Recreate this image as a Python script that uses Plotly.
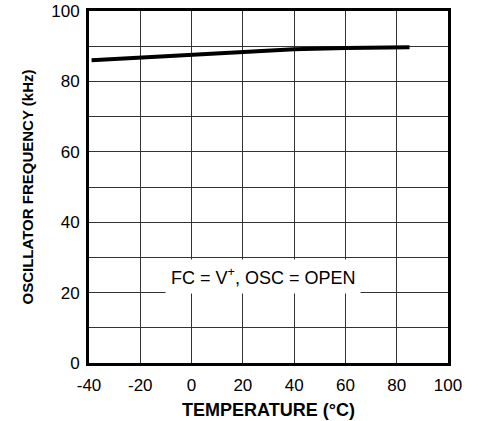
import plotly.graph_objects as go

temperature_c = [-39, -20, 0, 20, 40, 60, 85]
frequency_khz = [86.0, 86.7, 87.5, 88.3, 89.1, 89.5, 89.7]

x_ticks = [-40, -20, 0, 20, 40, 60, 80, 100]
y_ticks = [0, 20, 40, 60, 80, 100]
y_minor = [10, 30, 50, 70, 90]

font_family = "Liberation Sans, Arial, sans-serif"

fig = go.Figure()
fig.add_trace(go.Scatter(
    x=temperature_c, y=frequency_khz, mode="lines",
    line=dict(color="black", width=4), showlegend=False,
))

fig.add_annotation(
    x=28, y=24.7, text="FC = V<sup>+</sup>, OSC = OPEN", showarrow=False,
    font=dict(family=font_family, size=18, color="black"),
    bgcolor="white", borderpad=5,
)

fig.update_layout(
    width=483, height=421,
    margin=dict(l=89, r=35, t=11, b=58),
    paper_bgcolor="white", plot_bgcolor="white",
    font=dict(family=font_family, size=17, color="black"),
)

fig.update_xaxes(
    range=[-40, 100], tickvals=x_ticks, ticktext=[str(v) for v in x_ticks],
    showgrid=True, gridcolor="#333", gridwidth=1,
    showline=True, linecolor="black", linewidth=3, mirror=True,
    ticks="outside", ticklen=5, tickcolor="rgba(0,0,0,0)",
    zeroline=False, automargin=False,
    tickfont=dict(size=17),
    title=dict(text="<b>TEMPERATURE (°C)</b>", font=dict(size=18), standoff=9),
)
fig.update_yaxes(
    range=[0, 100], tickvals=y_ticks, ticktext=[str(v) for v in y_ticks],
    showgrid=True, gridcolor="#333", gridwidth=1,
    showline=True, linecolor="black", linewidth=3, mirror=True,
    ticks="outside", ticklen=3, tickcolor="rgba(0,0,0,0)",
    zeroline=False, automargin=False,
    tickfont=dict(size=17),
    title=dict(text="<b>OSCILLATOR FREQUENCY (kHz)</b>", font=dict(size=15), standoff=14),
    minor=dict(tickvals=y_minor, showgrid=True, gridcolor="#333", gridwidth=1),
)

fig.write_html("out.html")
